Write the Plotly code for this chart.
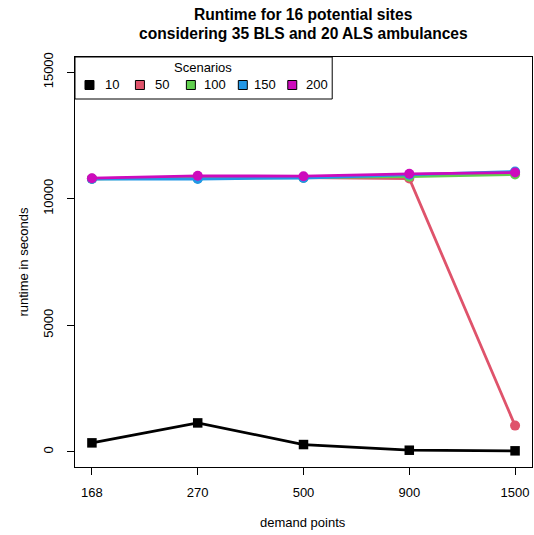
import plotly.graph_objects as go

# ---- data ----
demand_points = ["168", "270", "500", "900", "1500"]
scenarios = ["10", "50", "100", "150", "200"]
runtime_10 = [354, 1142, 287, 63, 39]
runtime_50 = [10790, 10860, 10830, 10800, 1035]
runtime_100 = [10790, 10800, 10830, 10870, 10960]
runtime_150 = [10780, 10780, 10820, 10950, 11075]
runtime_200 = [10811, 10906, 10890, 10984, 11035]
y_ticks = [0, 5000, 10000, 15000]

series = [runtime_10, runtime_50, runtime_100, runtime_150, runtime_200]
colors = ["#000000", "#DF536B", "#61D04F", "#2297E6", "#CD0BBC"]
symbols = ["square", "circle", "circle", "circle", "circle"]

W, H = 534, 535
L, R, T, B = 74.5, 2, 57, 68
PW, PH = W - L - R, H - T - B
FONT = "Liberation Sans, Arial, Helvetica, sans-serif"


def px(x):
    return (x - L) / PW


def py(y):
    return (H - B - y) / PH


xpos = list(range(len(demand_points)))

fig = go.Figure()
for name, vals, col, sym in zip(scenarios, series, colors, symbols):
    fig.add_trace(go.Scatter(
        x=xpos, y=vals, mode="lines+markers", name=name,
        line=dict(color=col, width=2.8),
        marker=dict(color=col, symbol=sym, size=10 if sym == "circle" else 9.5,
                    line=dict(width=0)),
        showlegend=False,
    ))

shapes = []
annotations = []

# legend box
shapes.append(dict(type="rect", xref="paper", yref="paper",
                   x0=px(74.5), x1=px(332), y0=py(99), y1=py(57),
                   line=dict(color="black", width=1), fillcolor="white",
                   layer="above"))
annotations.append(dict(text="Scenarios", xref="paper", yref="paper",
                        x=px(203), y=py(67), showarrow=False,
                        xanchor="center", yanchor="middle",
                        font=dict(family=FONT, size=13, color="black")))
box_x = [89, 139.5, 190.5, 242.5, 292]
text_x = [112, 162, 215, 265, 317]
for name, col, bx, tx in zip(scenarios, colors, box_x, text_x):
    shapes.append(dict(type="rect", xref="paper", yref="paper",
                       x0=px(bx - 4.5), x1=px(bx + 4.5),
                       y0=py(85 + 4.5), y1=py(85 - 4.5),
                       line=dict(color="black", width=1), fillcolor=col,
                       layer="above"))
    annotations.append(dict(text=name, xref="paper", yref="paper",
                            x=px(tx), y=py(85), showarrow=False,
                            xanchor="center", yanchor="middle",
                            font=dict(family=FONT, size=13, color="black")))

# title
annotations.append(dict(text="<b>Runtime for 16 potential sites</b>",
                        xref="paper", yref="paper", x=px(303), y=py(15),
                        showarrow=False, xanchor="center", yanchor="middle",
                        font=dict(family=FONT, size=15.6, color="black")))
annotations.append(dict(text="<b>considering 35 BLS and 20 ALS ambulances</b>",
                        xref="paper", yref="paper", x=px(303), y=py(34),
                        showarrow=False, xanchor="center", yanchor="middle",
                        font=dict(family=FONT, size=15.6, color="black")))
# axis titles
annotations.append(dict(text="demand points", xref="paper", yref="paper",
                        x=px(303), y=py(522), showarrow=False,
                        xanchor="center", yanchor="middle",
                        font=dict(family=FONT, size=13, color="black")))
annotations.append(dict(text="runtime in seconds", xref="paper", yref="paper",
                        x=px(22), y=py(262), showarrow=False, textangle=-90,
                        xanchor="center", yanchor="middle",
                        font=dict(family=FONT, size=13, color="black")))

fig.update_layout(
    width=W, height=H,
    margin=dict(l=L, r=R, t=T, b=B, pad=0),
    paper_bgcolor="white", plot_bgcolor="white",
    font=dict(family=FONT, size=13, color="black"),
    shapes=shapes, annotations=annotations,
    showlegend=False,
)
fig.update_xaxes(
    range=[-0.16, 4.16], tickvals=xpos, ticktext=demand_points,
    showgrid=False, zeroline=False, showline=True, mirror=True,
    linecolor="black", linewidth=1, ticks="outside", ticklen=7,
    tickcolor="black", tickwidth=1, ticklabelstandoff=6,
    tickfont=dict(family=FONT, size=13, color="black"),
)
fig.update_yaxes(
    range=[-600, 15600], tickvals=y_ticks,
    ticktext=[str(v) for v in y_ticks],
    showgrid=False, zeroline=False, showline=True, mirror=True,
    linecolor="black", linewidth=1, ticks="outside", ticklen=7,
    tickcolor="black", tickwidth=1, tickangle=-90, ticklabelstandoff=9,
    tickfont=dict(family=FONT, size=13, color="black"),
)

fig.write_html("out.html",
               config={"displayModeBar": False},
               post_script="document.body.style.margin='0';"
                           "document.body.style.overflow='hidden';")
